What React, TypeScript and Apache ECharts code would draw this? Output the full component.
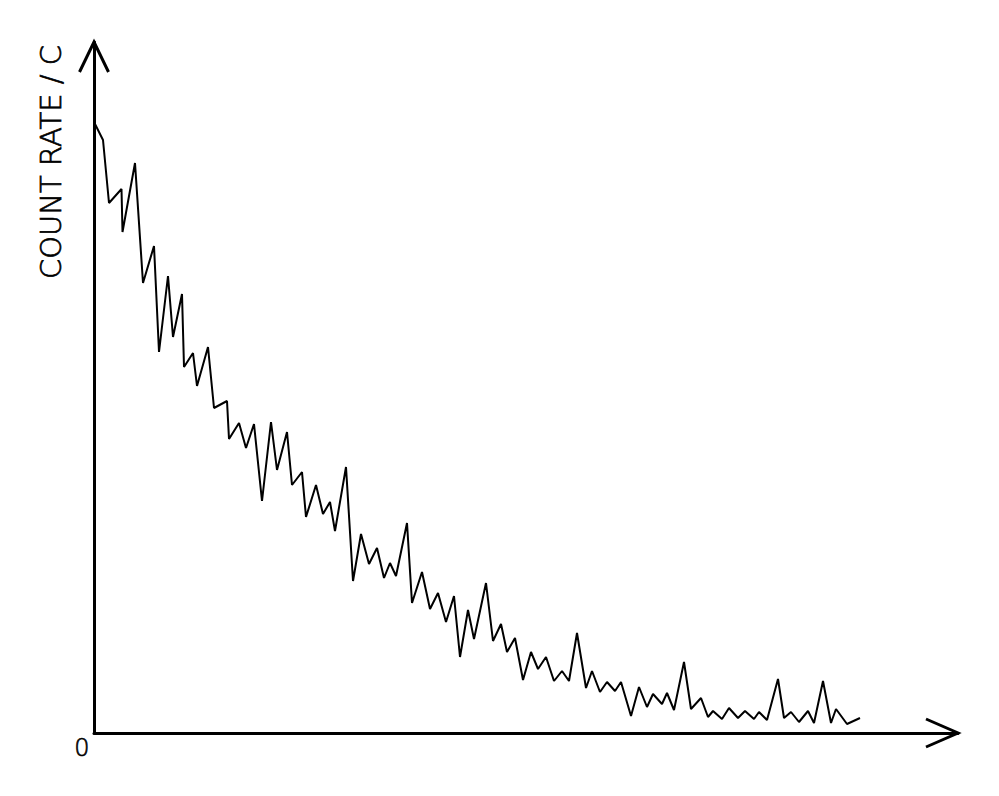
import React, { useEffect, useRef } from "react";
import * as echarts from "echarts";

// time (x) and count rate (y) readings, in chart units
const timeValues = [
  1, 9, 15, 27.5, 28.5, 41, 49, 60, 65, 74, 79, 88, 90, 99, 103, 114, 120, 133, 135, 145,
  152, 160, 168, 177, 183, 193, 198, 208, 212, 222, 229, 236, 241, 252, 259, 267, 275, 283, 290, 296,
  302, 313, 318, 328, 336, 344, 352, 360, 366, 374, 380, 392, 399, 407, 413, 421, 429, 437, 444, 452,
  460, 468, 475, 483, 492, 498, 506, 513, 521, 527, 537, 545, 553, 559, 568, 573, 580, 590, 597, 607,
  614, 619, 628, 635, 644, 651, 660, 665, 673, 684, 690, 697, 705, 714, 720, 729, 737, 742, 753, 766,
];
const countRates = [
  609, 593, 530, 544, 501, 570, 450, 487, 381, 457, 396, 439, 366, 380, 347, 386, 325, 332, 294, 310,
  285, 309, 232, 311, 263, 301, 248, 261, 216, 248, 219, 231, 202, 266, 152, 199, 169, 185, 155, 170,
  157, 210, 130, 161, 124, 140, 111, 137, 76, 123, 94, 150, 92, 109, 81, 95, 53, 81, 64, 76,
  52, 62, 52, 100, 45, 62, 41, 51, 42, 51, 17, 46, 26, 39, 29, 40, 23, 71, 24, 35,
  16, 22, 14, 25, 15, 22, 14, 21, 13, 54, 15, 21, 11, 22, 10, 52, 10, 24, 9, 15,
];
const xMax = 864;
const yMax = 691;
const yAxisTitle = "COUNT RATE / C";
const originLabel = "0";

export default function App() {
  const ref = useRef<HTMLDivElement>(null);

  useEffect(() => {
    if (!ref.current) return;
    const chart = echarts.init(ref.current, undefined, { renderer: "svg" });
    const data = timeValues.map((t, i) => [t, countRates[i]]);
    chart.setOption({
      animation: false,
      backgroundColor: "#ffffff",
      grid: { left: 94, right: 41, top: 42, bottom: 63 },
      xAxis: {
        type: "value",
        min: 0,
        max: xMax,
        axisLine: { show: true, lineStyle: { color: "#000", width: 3 } },
        axisTick: { show: false },
        axisLabel: { show: false },
        splitLine: { show: false },
      },
      yAxis: {
        type: "value",
        min: 0,
        max: yMax,
        axisLine: { show: true, lineStyle: { color: "#000", width: 3 } },
        axisTick: { show: false },
        axisLabel: { show: false },
        splitLine: { show: false },
      },
      series: [
        {
          type: "line",
          data,
          showSymbol: false,
          symbol: "none",
          lineStyle: { color: "#000", width: 2 },
          z: 3,
        },
      ],
    });

    const origin = chart.convertToPixel({ gridIndex: 0 }, [0, 0]) as number[];
    const topTip = chart.convertToPixel({ gridIndex: 0 }, [0, yMax]) as number[];
    const rightTip = chart.convertToPixel({ gridIndex: 0 }, [xMax, 0]) as number[];

    chart.setOption({
      graphic: [
        {
          type: "polyline",
          shape: {
            points: [
              [topTip[0] - 14.5, topTip[1] + 30],
              [topTip[0], topTip[1]],
              [topTip[0] + 14.5, topTip[1] + 30],
            ],
          },
          style: { stroke: "#000", lineWidth: 3, fill: "none", lineJoin: "miter" },
          z: 10,
        },
        {
          type: "polyline",
          shape: {
            points: [
              [rightTip[0] - 32, rightTip[1] - 14],
              [rightTip[0], rightTip[1]],
              [rightTip[0] - 32, rightTip[1] + 14],
            ],
          },
          style: { stroke: "#000", lineWidth: 3, fill: "none", lineJoin: "miter" },
          z: 10,
        },
        {
          type: "text",
          x: origin[0] - 43,
          y: topTip[1] + 3,
          rotation: Math.PI / 2,
          style: {
            text: yAxisTitle,
            fill: "#000",
            stroke: "#000",
            lineWidth: 0.7,
            font: "200 29px 'DejaVu Sans', sans-serif",
            textAlign: "right",
            textVerticalAlign: "middle",
          },
          z: 10,
        },
        {
          type: "text",
          x: origin[0] - 12,
          y: origin[1] + 15,
          style: {
            text: originLabel,
            fill: "#000",
            stroke: "#000",
            lineWidth: 0.6,
            font: "200 24px 'DejaVu Sans', sans-serif",
            textAlign: "center",
            textVerticalAlign: "middle",
          },
          z: 10,
        },
      ],
    });

    return () => chart.dispose();
  }, []);

  return <div ref={ref} style={{ width: 999, height: 796, position: "absolute", left: 0, top: 0 }} />;
}
